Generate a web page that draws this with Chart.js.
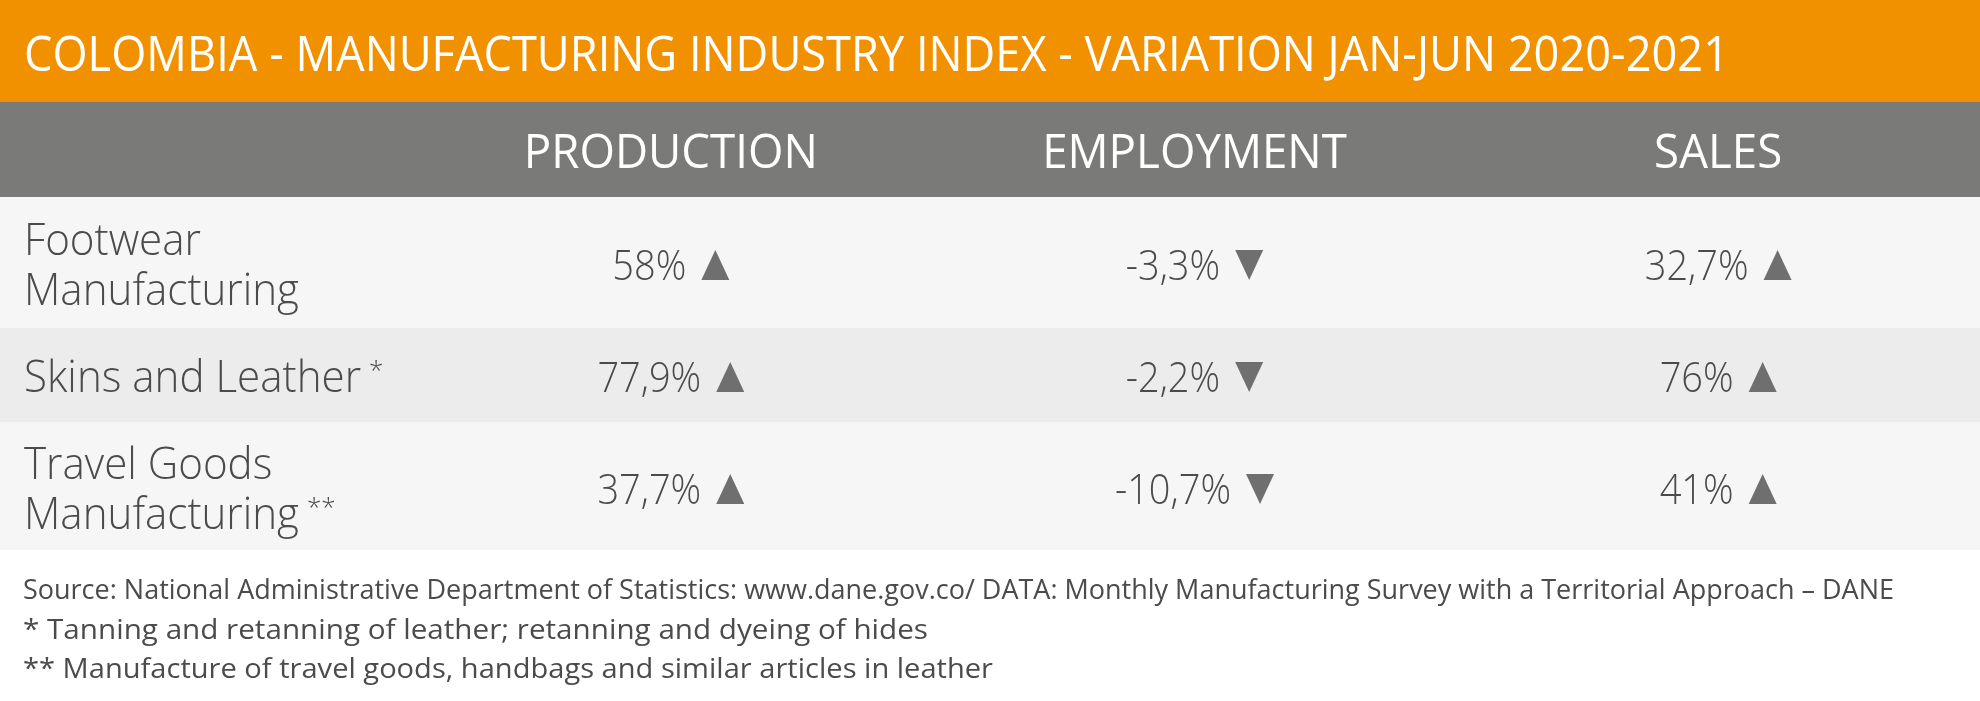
<!DOCTYPE html>
<html lang="en">
<head>
  <meta charset="UTF-8">
  <title>Colombia - Manufacturing Industry Index</title>
  <script src="https://cdn.jsdelivr.net/npm/chart.js@4.4.2/dist/chart.umd.min.js"></script>
  <style>
    body{
      margin: 0;
      background-color: white;
    }
    #myChart{
      display: block;
    }
  </style>
</head>
<body>
  <canvas id="myChart" width="1980" height="701"></canvas>
  <script>
    const titleText = 'COLOMBIA - MANUFACTURING INDUSTRY INDEX - VARIATION JAN-JUN 2020-2021';
    const columns = ['PRODUCTION', 'EMPLOYMENT', 'SALES'];
    const rowNames = [['Footwear', 'Manufacturing'], ['Skins and Leather'], ['Travel Goods', 'Manufacturing']];
    const rowNotes = ['', '*', '**'];
    const production = [58, 77.9, 37.7];
    const employment = [-3.3, -2.2, -10.7];
    const sales = [32.7, 76, 41];
    const footnotes = [
      'Source: National Administrative Department of Statistics: www.dane.gov.co/ DATA: Monthly Manufacturing Survey with a Territorial Approach \u2013 DANE',
      '* Tanning and retanning of leather; retanning and dyeing of hides',
      '** Manufacture of travel goods, handbags and similar articles in leather'
    ];

    const rowKeys = rowNames.map(r => r.join(' '));
    const series = [production, employment, sales];

    const FONT = "'Open Sans', 'Noto Sans', sans-serif";
    const orange = '#f29100';
    const headGrey = '#7a7a78';
    const textGrey = '#4b4b4b';
    const arrowGrey = '#6f6f6f';
    // measured widths of the footnote lines in the picture
    const footWidths = [1871, 905, 970];

    // draws text squeezed horizontally by sx, returns drawn width
    function drawText(ctx, text, x, y, font, color, sx, align) {
      ctx.save();
      ctx.font = font;
      ctx.fillStyle = color;
      ctx.textBaseline = 'alphabetic';
      ctx.textAlign = 'left';
      const w = ctx.measureText(text).width * sx;
      let left = x;
      if (align === 'center') left = x - w / 2;
      if (align === 'right') left = x - w;
      ctx.translate(left, y);
      ctx.scale(sx, 1);
      ctx.fillText(text, 0, 0);
      ctx.restore();
      return w;
    }

    function squeeze(ctx, text, font, target) {
      ctx.save();
      ctx.font = font;
      const w = ctx.measureText(text).width;
      ctx.restore();
      return target / w;
    }

    function fmt(v) {
      return String(v).replace('.', ',') + '%';
    }

    const tablePlugin = {
      id: 'tablePlugin',
      beforeDatasetsDraw(chart) {
        const ctx = chart.ctx;
        const y = chart.scales.y;
        const x = chart.scales.x;
        const W = chart.width;

        // bands
        ctx.save();
        ctx.fillStyle = orange;
        ctx.fillRect(0, 0, W, 102);
        ctx.fillStyle = headGrey;
        ctx.fillRect(0, 102, W, 95);
        ctx.fillStyle = '#f6f6f6';
        ctx.fillRect(0, 197, W, 353);
        ctx.fillStyle = '#ececec';
        const mid = y.getPixelForValue(1);
        ctx.fillRect(0, mid - 48, W, 94);
        ctx.restore();

        // title
        const titleFont = '400 49px ' + FONT;
        drawText(ctx, titleText, 24, 71, titleFont, '#ffffff', squeeze(ctx, titleText, titleFont, 1705), 'left');

        // column headers
        const headFont = '400 47px ' + FONT;
        const hsx = squeeze(ctx, 'PRODUCTION', headFont, 294);
        columns.forEach((c, i) => {
          drawText(ctx, c, x.getPixelForValue(i), 168, headFont, '#ffffff', hsx, 'center');
        });

        // row labels
        const labFont = '300 44px ' + FONT;
        const lsx = squeeze(ctx, 'Manufacturing', labFont, 275);
        rowNames.forEach((lines, i) => {
          const cy = y.getPixelForValue(i);
          let base = lines.length > 1 ? [cy - 9, cy + 41] : [cy + 16];
          let lastW = 0;
          lines.forEach((t, j) => {
            lastW = drawText(ctx, t, 24, base[j], labFont, textGrey, lsx, 'left');
          });
          if (rowNotes[i]) {
            drawText(ctx, rowNotes[i], 24 + lastW + 8, base[base.length - 1] - 13, '300 26px ' + FONT, textGrey, 1, 'left');
          }
        });

        // footnotes
        const footFont = '400 28px ' + FONT;
        footnotes.forEach((t, i) => {
          const fsx = squeeze(ctx, t, footFont, footWidths[i]);
          drawText(ctx, t, 23, 599 + i * 39.5, footFont, textGrey, fsx, 'left');
        });
      },
      afterDatasetsDraw(chart) {
        const ctx = chart.ctx;
        const valFont = '300 43px ' + FONT;
        const vsx = squeeze(ctx, '58%', valFont, 74);
        chart.data.datasets.forEach((ds, d) => {
          const meta = chart.getDatasetMeta(d);
          meta.data.forEach((el, i) => {
            const v = ds.data[i].v;
            const txt = fmt(v);
            ctx.save();
            ctx.font = valFont;
            const tw = ctx.measureText(txt).width * vsx;
            ctx.restore();
            const gap = 15, tri = 28;
            const total = tw + gap + tri;
            const left = el.x - total / 2;
            const base = el.y + 16;
            drawText(ctx, txt, left, base, valFont, textGrey, vsx, 'left');
            const tx = left + tw + gap;
            ctx.save();
            ctx.fillStyle = arrowGrey;
            ctx.beginPath();
            if (v >= 0) {
              ctx.moveTo(tx, base);
              ctx.lineTo(tx + tri / 2, base - 30);
              ctx.lineTo(tx + tri, base);
            } else {
              ctx.moveTo(tx, base - 30);
              ctx.lineTo(tx + tri, base - 30);
              ctx.lineTo(tx + tri / 2, base);
            }
            ctx.closePath();
            ctx.fill();
            ctx.restore();
          });
        });
      }
    };

    const ctx = document.getElementById('myChart').getContext('2d');
    const myChart = new Chart(ctx, {
      type: 'scatter',
      data: {
        datasets: series.map((vals, c) => ({
          label: columns[c],
          data: vals.map((v, i) => ({ x: columns[c], y: rowKeys[i], v: v })),
          pointRadius: 0,
          pointHoverRadius: 0
        }))
      },
      options: {
        responsive: false,
        animation: false,
        events: [],
        layout: {
          padding: { left: 409, right: 0, top: 208, bottom: 157 }
        },
        plugins: {
          legend: { display: false },
          tooltip: { enabled: false }
        },
        scales: {
          x: { type: 'category', labels: columns, offset: true, display: false },
          y: { type: 'category', labels: rowKeys, offset: true, display: false }
        }
      },
      plugins: [tablePlugin]
    });
  </script>
</body>
</html>
